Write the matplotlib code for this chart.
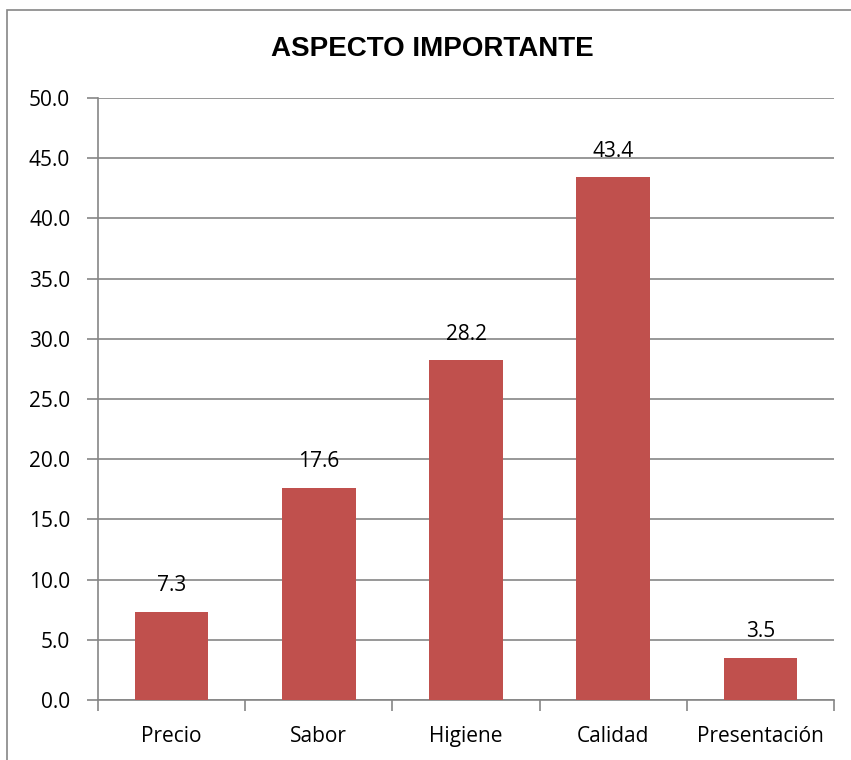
import matplotlib
matplotlib.use("Agg")
import matplotlib.pyplot as plt
from matplotlib.patches import Rectangle

# ---- data ----
categories = ["Precio", "Sabor", "Higiene", "Calidad", "Presentación"]
values     = [7.3, 17.6, 28.2, 43.4, 3.5]
yticks     = [0, 5, 10, 15, 20, 25, 30, 35, 40, 45, 50]

bar_color  = "#C0504D"
grid_color = "#868686"
plt.rcParams["font.family"] = ["Open Sans", "DejaVu Sans"]
FS = 15

fig = plt.figure(figsize=(8.51, 7.6), dpi=100)
W, H = 851, 760
ax = fig.add_axes([98 / W, 1 - 700 / H, (834 - 98) / W, (700 - 98) / H])

# outer chart border (only left/top visible in the crop)
fig.patches.append(Rectangle((7 / W, -0.1), 2.0, 1 - 10 / H + 0.1,
                             transform=fig.transFigure, fill=False,
                             edgecolor=grid_color, linewidth=1.2))

x = list(range(len(categories)))
bars = ax.bar(x, values, width=0.5, color=bar_color, zorder=3)

for xi, v in zip(x, values):
    ax.text(xi, v + 1.3, f"{v:.1f}", ha="center", va="bottom", fontsize=FS)

ax.set_xlim(-0.5, len(categories) - 0.5)
ax.set_ylim(0, 50)
ax.set_yticks(yticks)
ax.set_yticklabels([f"{t:.1f}" for t in yticks], fontsize=FS)
ax.yaxis.grid(True, color=grid_color, linewidth=1.2, zorder=0)

ax.set_xticks(x)
ax.set_xticklabels(categories, fontsize=FS)
ax.tick_params(axis="x", length=0, pad=19)
ax.set_xticks([i - 0.5 for i in range(len(categories) + 1)], minor=True)
ax.tick_params(axis="x", which="minor", length=8, color=grid_color, width=1.2)
ax.tick_params(axis="y", length=8, color=grid_color, width=1.2, pad=12)

for side in ("top", "right"):
    ax.spines[side].set_visible(False)
for side in ("left", "bottom"):
    ax.spines[side].set_color(grid_color)
    ax.spines[side].set_linewidth(1.2)

fig.text(432 / W, 1 - 49 / H, "ASPECTO IMPORTANTE", ha="center", va="center",
         fontsize=20, fontweight="bold", family="Liberation Sans")

fig.savefig("out.png", dpi=100)
